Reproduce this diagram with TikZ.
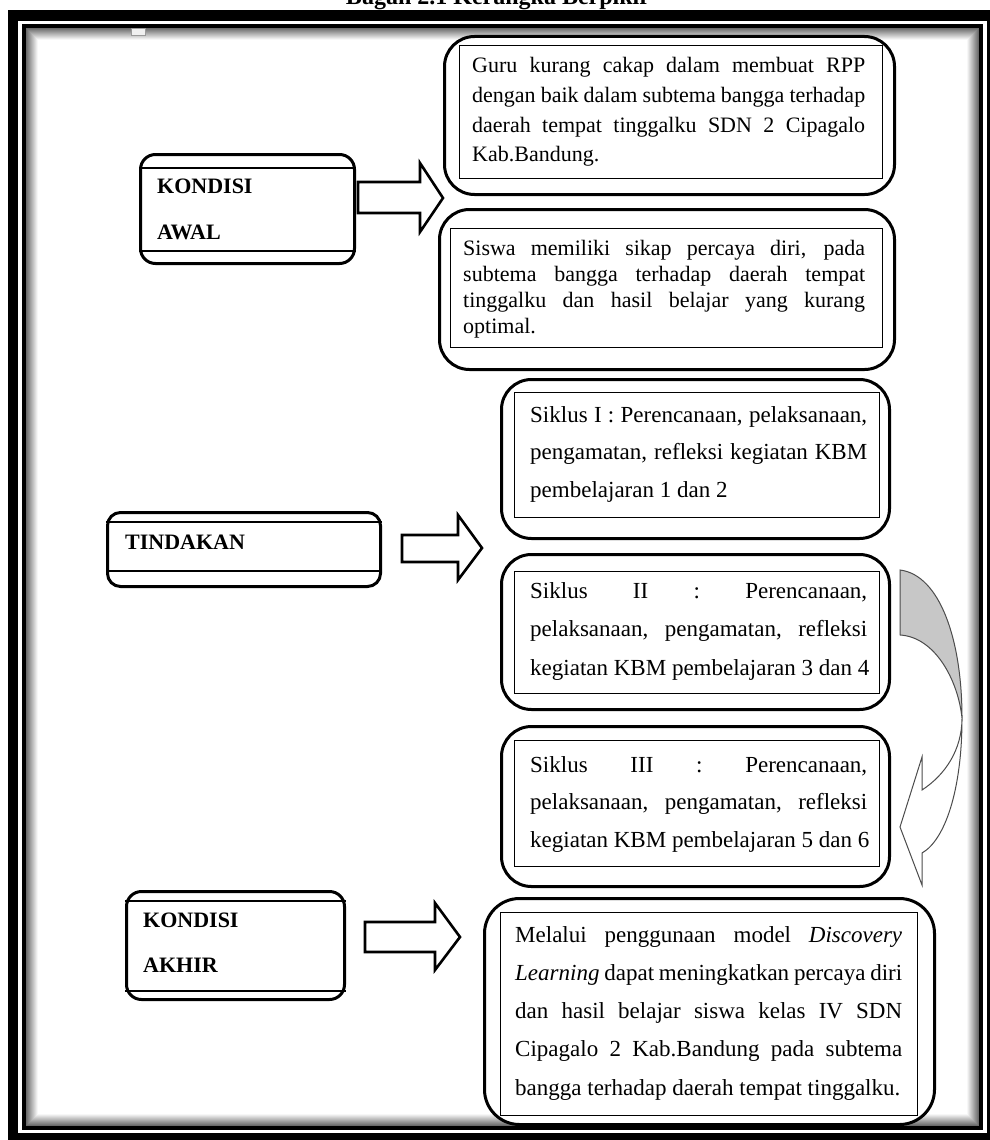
\documentclass[tikz,border=0pt]{standalone}
\usepackage{fontspec}
\setmainfont{Liberation Serif}
\newcommand\jl[1]{\hbox to\hsize{#1}}
\newcommand\tb[3]{\vtop{\hsize=#1\baselineskip=#2\relax\lineskip=0pt\lineskiplimit=-100pt #3}}
\hbadness=10000 \hfuzz=20pt
\tikzset{
  obox/.style={draw, line width=3pt, rounded corners=#1, fill=white, anchor=north west, inner sep=0pt},
  obox/.default=28pt,
  ibox/.style={draw, line width=1.3pt, anchor=north west, inner sep=0pt},
  iline/.style={line width=1.3pt},
  blockarrow/.style={draw, line width=2.6pt, fill=white, line join=miter},
  txt/.style={anchor=base west, inner sep=0pt, font=\fontsize{22}{22}\selectfont},
  txtb/.style={anchor=base west, inner sep=0pt, font=\fontsize{23}{23}\selectfont},
  lbl/.style={anchor=base west, inner sep=0pt, font=\fontsize{22}{22}\selectfont\bfseries},
  curv/.style={draw=black!70, line width=1pt, line join=miter},
}
\begin{document}
\begin{tikzpicture}[x=1pt,y=-1pt]
\clip (0,0) rectangle (990,1140);
\fill[white] (0,0) rectangle (990,1140);
% title (partly cut, as in the reference)
\node[anchor=base, inner sep=0pt, font=\fontsize{24}{24}\selectfont\bfseries] (title) at (498,5) {Bagan 2.1 Kerangka Berpikir};
% frame
\fill[black] (8,10) rectangle (1000,1150);
\fill[white] (18,21) rectangle (987,1133);
\fill[black] (22,24) rectangle (983,1130);
\fill[white] (26,28) rectangle (979,1126);
\foreach \i in {0,...,11} {
  \pgfmathtruncatemacro\c{58-5*\i}
  \draw[line width=1pt, black!\c] (26.5+\i,28.5+\i) rectangle (978.5-\i,1125.5-\i);
}
\draw[black!40, fill=black!6, line width=0.8pt] (131,28.5) rectangle (145,35);

% KONDISI AWAL
\node[obox=15pt, minimum width=214pt, minimum height=109pt] (kaw) at (139,153) {};
\draw[iline] ([yshift=-15pt]kaw.north west) -- ([yshift=-15pt]kaw.north east);
\draw[iline] ([yshift=14pt]kaw.south west) -- ([yshift=14pt]kaw.south east);
\node[lbl] (kawt) at (157,193) {\tb{180pt}{46pt}{\hbox{KONDISI}\hbox{AWAL}}};

% TINDAKAN
\node[obox=13pt, minimum width=273pt, minimum height=74pt] (tin) at (106,511) {};
\draw[iline] ([yshift=-11pt]tin.north west) -- ([yshift=-11pt]tin.north east);
\draw[iline] ([yshift=17pt]tin.south west) -- ([yshift=17pt]tin.south east);
\node[lbl] (tint) at (125,549) {TINDAKAN};

% KONDISI AKHIR
\node[obox=15pt, minimum width=218pt, minimum height=108pt] (kak) at (125,890) {};
\draw[iline] ([yshift=-11pt]kak.north west) -- ([yshift=-11pt]kak.north east);
\draw[iline] ([yshift=10pt]kak.south west) -- ([yshift=10pt]kak.south east);
\node[lbl] (kakt) at (143,927) {\tb{180pt}{45pt}{\hbox{KONDISI}\hbox{AKHIR}}};

% Guru box
\node[obox=30pt, minimum width=450pt, minimum height=158pt] (guru) at (443,35) {};
\node[ibox, minimum width=423pt, minimum height=133pt] (gurui) at (459,45) {};
\node[txt] (gurut) at (472,73) {\tb{393pt}{29.5pt}{%
\jl{Guru kurang cakap dalam membuat RPP}%
\jl{dengan baik dalam subtema bangga terhadap}%
\jl{daerah tempat tinggalku SDN 2 Cipagalo}%
\hbox{Kab.Bandung.}}};

% Siswa box
\node[obox=30pt, minimum width=455pt, minimum height=160pt] (sis) at (438,208) {};
\node[ibox, minimum width=432pt, minimum height=119pt] (sisi) at (450,228) {};
\node[txt] (sist) at (463,255) {\tb{402pt}{26pt}{%
\jl{Siswa memiliki sikap percaya diri, pada}%
\jl{subtema bangga terhadap daerah tempat}%
\jl{tinggalku dan hasil belajar yang kurang}%
\hbox{optimal.}}};

% Siklus I
\node[obox=30pt, minimum width=388pt, minimum height=159pt] (s1) at (500,378) {};
\node[ibox, minimum width=365pt, minimum height=125pt] (s1i) at (514,392) {};
\node[txtb] (s1t) at (530,422) {\tb{337pt}{37.5pt}{%
\jl{Siklus I : Perencanaan, pelaksanaan,}%
\jl{pengamatan, refleksi kegiatan KBM}%
\hbox{pembelajaran 1 dan 2}}};

% Siklus II
\node[obox=30pt, minimum width=388pt, minimum height=155pt] (s2) at (500,553) {};
\node[ibox, minimum width=365pt, minimum height=122pt] (s2i) at (514,571) {};
\node[txtb] (s2t) at (530,598) {\tb{337pt}{38.5pt}{%
\jl{Siklus II : Perencanaan,}%
\jl{pelaksanaan, pengamatan, refleksi}%
\hbox{kegiatan KBM pembelajaran 3 dan 4}}};

% Siklus III
\node[obox=30pt, minimum width=388pt, minimum height=160pt] (s3) at (500,725) {};
\node[ibox, minimum width=365pt, minimum height=126pt] (s3i) at (514,740) {};
\node[txtb] (s3t) at (530,772) {\tb{337pt}{37.5pt}{%
\jl{Siklus III : Perencanaan,}%
\jl{pelaksanaan, pengamatan, refleksi}%
\hbox{kegiatan KBM pembelajaran 5 dan 6}}};

% Final box
\node[obox=35pt, minimum width=450pt, minimum height=226pt] (fin) at (483,897) {};
\node[ibox, minimum width=417pt, minimum height=203pt] (fini) at (500,912) {};
\node[txtb] (fint) at (515,942) {\tb{387pt}{38.3pt}{%
\jl{Melalui penggunaan model \textit{Discovery}}%
\jl{\textit{Learning} dapat meningkatkan percaya diri}%
\jl{dan hasil belajar siswa kelas IV SDN}%
\jl{Cipagalo 2 Kab.Bandung pada subtema}%
\hbox{bangga terhadap daerah tempat tinggalku.}}};

% block arrows
\draw[blockarrow] (358,182) -- (420,182) -- (420,163) -- (443,198) -- (420,232) -- (420,213) -- (358,213) -- cycle;
\draw[blockarrow] (402,535) -- (458,535) -- (458,515) -- (482,548) -- (458,580) -- (458,562) -- (402,562) -- cycle;
\draw[blockarrow] (365,922) -- (435,922) -- (435,903) -- (460,937) -- (435,970) -- (435,952) -- (365,952) -- cycle;

% curved arrow from Siklus II to Siklus III
\coordinate (ca1) at (900,570);
\coordinate (ca2) at (900,635);
\coordinate (cx) at (962,718);
\fill[black!22] (ca1) .. controls (940,575) and (962,640) .. (cx) .. controls (958,680) and (935,637) .. (ca2) -- cycle;
\draw[curv] (ca2) -- (ca1) .. controls (940,575) and (962,640) .. (cx) .. controls (962,790) and (945,840) .. (922,853)
  -- (922,885) -- (900,827) -- (922,757) -- (922,790)
  .. controls (945,775) and (962,750) .. (cx) .. controls (958,680) and (935,637) .. (ca2);
\end{tikzpicture}
\end{document}
